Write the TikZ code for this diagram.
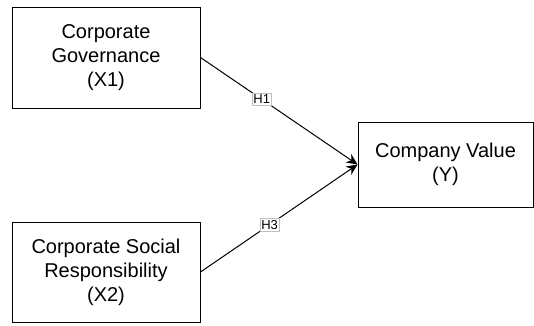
\documentclass[tikz,border=0pt]{standalone}
\usepackage{fontspec}
\setmainfont{Liberation Sans}
\usetikzlibrary{arrows.meta, positioning}

\begin{document}
\begin{tikzpicture}[
        x=1pt, y=-1pt,
        box/.style={rectangle, draw, line width=1pt, align=center, font=\fontsize{20}{24}\selectfont},
        arrow/.style={-{Stealth[length=11pt, width=10pt]}, line width=1pt},
        hyp/.style={fill=white, draw=black!25, line width=0.4pt, inner sep=1.5pt, font=\fontsize{13}{15}\selectfont}
    ]
        \useasboundingbox (0,0) rectangle (534,325);
        \node[box, minimum width=188pt, minimum height=101pt] (X1) at (106,57.5) {Corporate\\Governance\\(X1)};
        \node[box, minimum width=188pt, minimum height=100pt] (X2) at (106,272) {Corporate Social\\Responsibility\\(X2)};
        \node[box, minimum width=175pt, minimum height=85pt] (Y) at (445.5,164.5) {Company Value\\(Y)};
        \draw[arrow] (X1.east) -- node[hyp, pos=0.39] {H1} (Y.west);
        \draw[arrow] (X2.east) -- node[hyp, pos=0.44] {H3} (Y.west);
    \end{tikzpicture}
\end{document}
